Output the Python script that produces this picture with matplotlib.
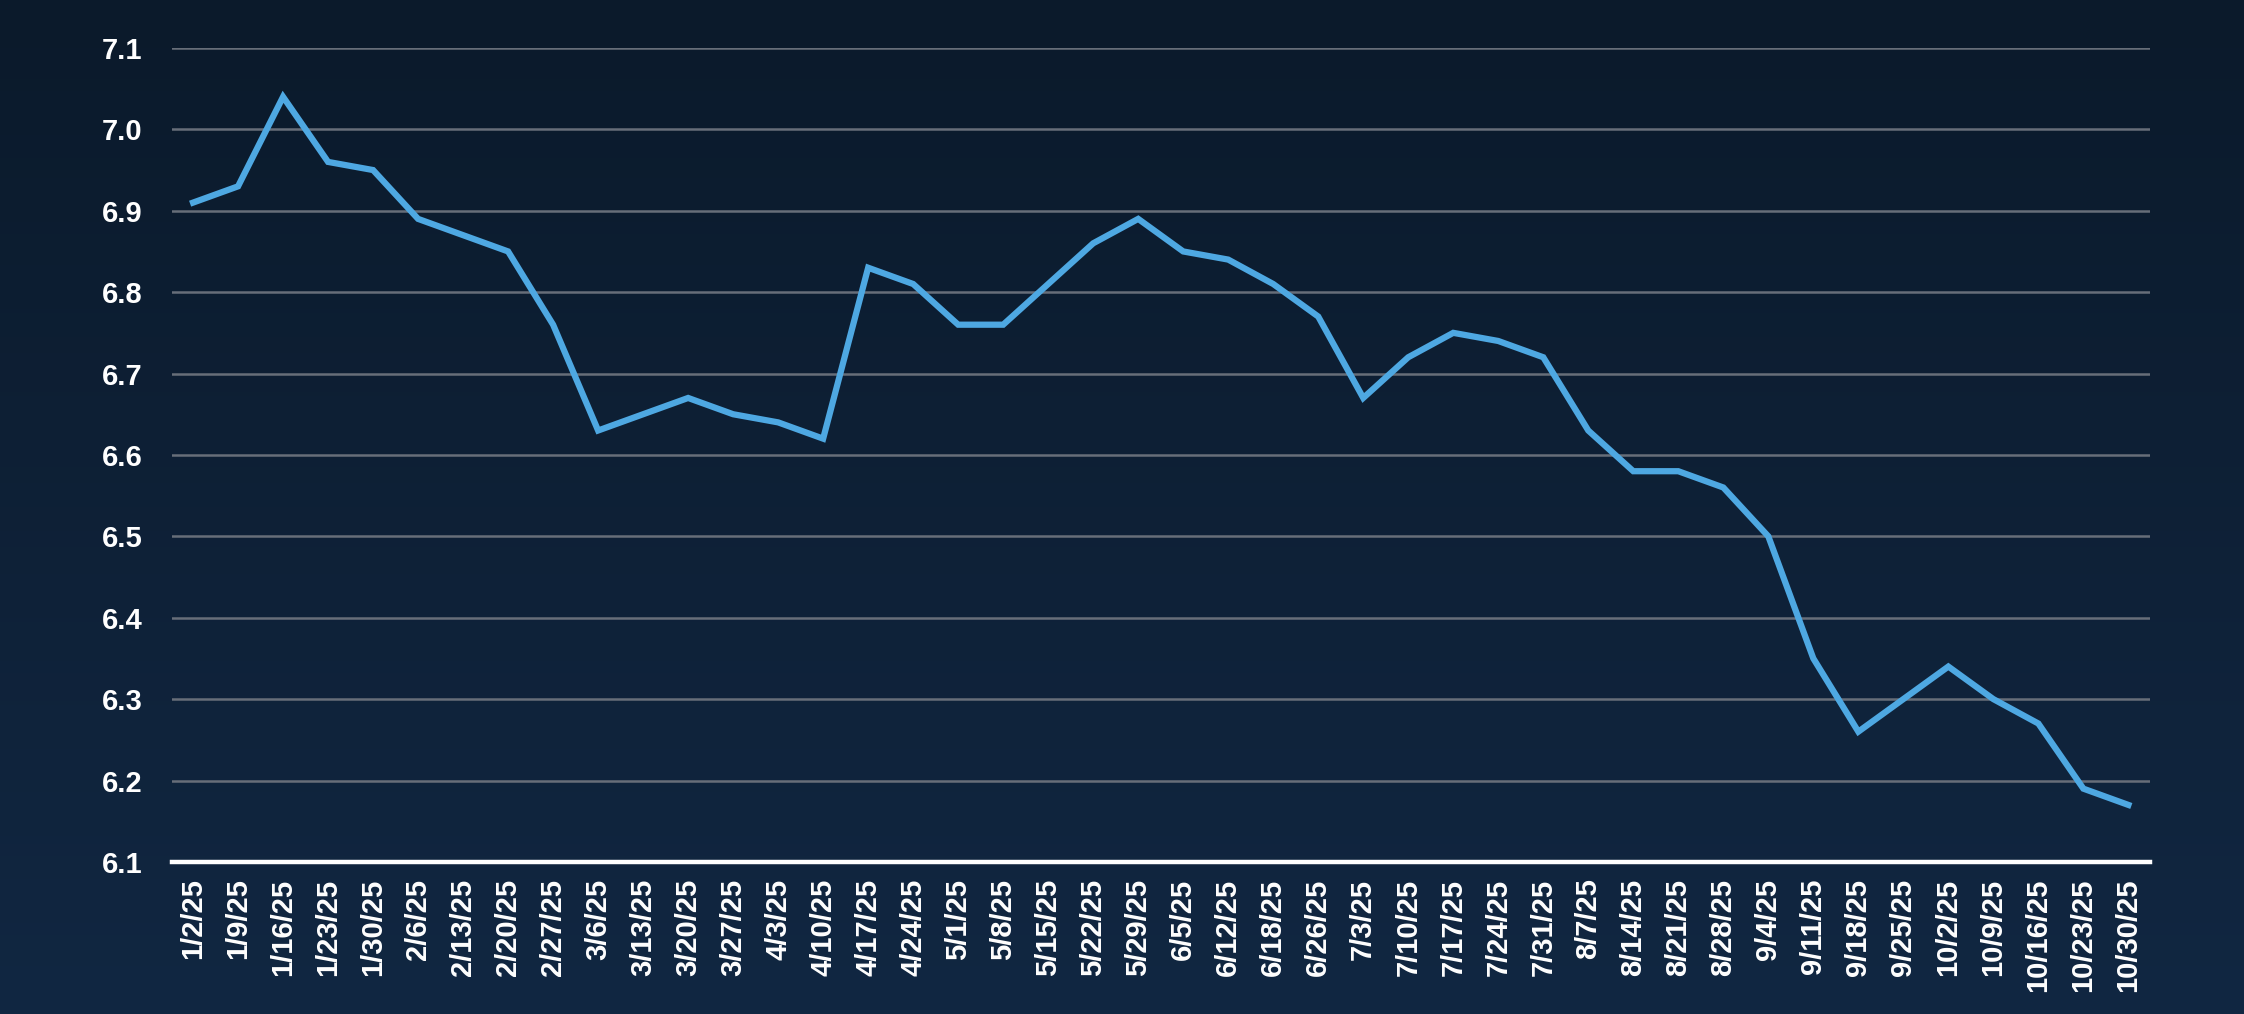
import numpy as np
import matplotlib
matplotlib.use("Agg")
import matplotlib.pyplot as plt
from matplotlib.colors import LinearSegmentedColormap

# weekly dates and values
dates = [
    "1/2/25", "1/9/25", "1/16/25", "1/23/25", "1/30/25",
    "2/6/25", "2/13/25", "2/20/25", "2/27/25",
    "3/6/25", "3/13/25", "3/20/25", "3/27/25",
    "4/3/25", "4/10/25", "4/17/25", "4/24/25",
    "5/1/25", "5/8/25", "5/15/25", "5/22/25", "5/29/25",
    "6/5/25", "6/12/25", "6/18/25", "6/26/25",
    "7/3/25", "7/10/25", "7/17/25", "7/24/25", "7/31/25",
    "8/7/25", "8/14/25", "8/21/25", "8/28/25",
    "9/4/25", "9/11/25", "9/18/25", "9/25/25",
    "10/2/25", "10/9/25", "10/16/25", "10/23/25", "10/30/25",
]
rates = [
    6.91, 6.93, 7.04, 6.96, 6.95,
    6.89, 6.87, 6.85, 6.76,
    6.63, 6.65, 6.67, 6.65,
    6.64, 6.62, 6.83, 6.81,
    6.76, 6.76, 6.81, 6.86, 6.89,
    6.85, 6.84, 6.81, 6.77,
    6.67, 6.72, 6.75, 6.74, 6.72,
    6.63, 6.58, 6.58, 6.56,
    6.50, 6.35, 6.26, 6.30,
    6.34, 6.30, 6.27, 6.19, 6.17,
]
yticks = [6.1, 6.2, 6.3, 6.4, 6.5, 6.6, 6.7, 6.8, 6.9, 7.0, 7.1]

plt.rcParams["font.family"] = ["Liberation Sans", "DejaVu Sans"]

fig = plt.figure(figsize=(22.44, 10.14), dpi=100)

# background gradient
bg = fig.add_axes([0, 0, 1, 1], zorder=-10)
cmap = LinearSegmentedColormap.from_list("bg", ["#0b1a2b", "#112742"])
bg.imshow(np.linspace(0, 1, 256).reshape(-1, 1), aspect="auto", cmap=cmap,
          extent=[0, 1, 0, 1], origin="upper")
bg.axis("off")

ax = fig.add_axes([0.0766, 0.150, 0.8815, 0.8027])
ax.patch.set_alpha(0)

x = np.arange(len(dates))
ax.plot(x, rates, color="#4ea8e2", lw=4.5, solid_joinstyle="miter", zorder=3)

ax.set_xlim(-0.47, len(dates) - 1 + 0.48)
ax.set_ylim(6.1, 7.1)
ax.set_yticks(yticks)
ax.set_yticklabels([f"{v:.1f}" for v in yticks], fontweight="bold")
ax.set_xticks(x)
ax.set_xticklabels(dates, rotation=90, fontweight="bold")

ax.grid(axis="y", color="#676e79", lw=1.8)
ax.set_axisbelow(True)
for s in ["top", "right", "left"]:
    ax.spines[s].set_visible(False)
ax.spines["bottom"].set_color("white")
ax.spines["bottom"].set_linewidth(3.2)
ax.spines["bottom"].set_zorder(4)

ax.tick_params(axis="y", length=0, pad=21, labelsize=21, labelcolor="white")
ax.tick_params(axis="x", length=0, pad=12, labelsize=21, labelcolor="white")

fig.savefig("out.png", dpi=100)
